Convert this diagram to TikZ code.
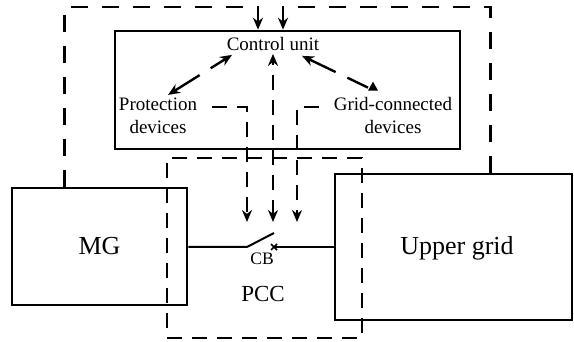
\documentclass[tikz,border=0pt]{standalone}
\usepackage{fontspec}
\setmainfont{Liberation Serif}
\usetikzlibrary{arrows.meta}
\begin{document}
\begin{tikzpicture}[x=1pt,y=-1pt,
  box/.style={draw, line width=2.6pt, inner sep=0pt},
  dline/.style={line width=2.5pt, dash pattern=on 17pt off 14pt},
  sline/.style={line width=2.4pt, dash pattern=on 15pt off 10pt},
  aline/.style={line width=2.4pt, dash pattern=on 30pt off 13pt},
  arr/.style={-{Stealth[length=12pt,width=10pt]}},
  arrb/.style={{Stealth[length=12pt,width=10pt]}-{Stealth[length=12pt,width=10pt]}},
  small/.style={font=\fontsize{19}{23}\selectfont, align=center, inner sep=3pt},
  big/.style={font=\fontsize{26}{30}\selectfont}]
\useasboundingbox (0,0) rectangle (574,342);

% boxes
\node[box, minimum width=175pt, minimum height=117pt, big] (mg) at (99.5,246.5) {MG};
\node[box, minimum width=237pt, minimum height=146pt] (ug) at (453.5,247) {};
\node[big] (ugt) at (457,248) {Upper grid};
\node[box, minimum width=345pt, minimum height=118pt] (cub) at (287.5,90) {};
\node[draw, line width=2.5pt, dash pattern=on 15pt off 10pt, minimum width=195pt, minimum height=180pt, inner sep=0pt] (pccb) at (264.5,248) {};

% labels
\node[small] (cu) at (273,44) {Control unit};
\node[small] (pd) at (158,116) {Protection\\devices};
\node[small] (gc) at (393,116) {Grid-connected\\devices};
\node[font=\fontsize{23}{26}\selectfont] (pcc) at (263,294) {PCC};
\node[font=\fontsize{17.5}{20}\selectfont] (cb) at (262,259) {CB};

% switch
\coordinate (cbl) at (247,247);
\coordinate (cbr) at (274,247);
\coordinate (cbt) at (274,233);
\draw[line width=2pt] (mg.east |- cbl) -- (cbl) -- (cbt);
\draw[line width=2pt] (cbr) -- (ug.west |- cbr);
\draw[line width=1.6pt] ([xshift=-3pt,yshift=-3pt]cbr) -- ([xshift=3pt,yshift=3pt]cbr)
  ([xshift=-3pt,yshift=3pt]cbr) -- ([xshift=3pt,yshift=-3pt]cbr);

% outer loops
\coordinate (lc) at (258,7);
\coordinate (rc) at (283,7);
\draw[dline, arr] ([xshift=54pt]mg.north west) |- (lc) -- (lc |- cub.north);
\draw[dline, arr] ([xshift=157pt]ug.north west) |- (rc) -- (rc |- cub.north);

% device arrows
\draw[aline, arrb] ([xshift=10pt]pd.north) -- ([xshift=-41pt,yshift=-1pt]cu.south);
\draw[aline, {Stealth[length=12pt,width=10pt]}-] ([xshift=29pt,yshift=-2pt]cu.south) -- ([xshift=-25pt,yshift=7pt]gc.north);
\fill ([xshift=-20pt,yshift=13pt]gc.north) -- ([xshift=-25pt,yshift=4pt]gc.north) -- ([xshift=-15pt,yshift=4pt]gc.north) -- cycle;

% vertical links
\draw[sline, arr] ([xshift=12pt,yshift=9pt]pd.east) -| ([yshift=25pt]cbl);
\draw[sline, arrb] ([xshift=-1pt,yshift=25pt]cbr) -- ([xshift=-1pt]cbr |- cu.south);
\draw[sline, arr] ([xshift=-12pt,yshift=9pt]gc.west) -| ([xshift=23pt,yshift=25pt]cbr);
\end{tikzpicture}
\end{document}
